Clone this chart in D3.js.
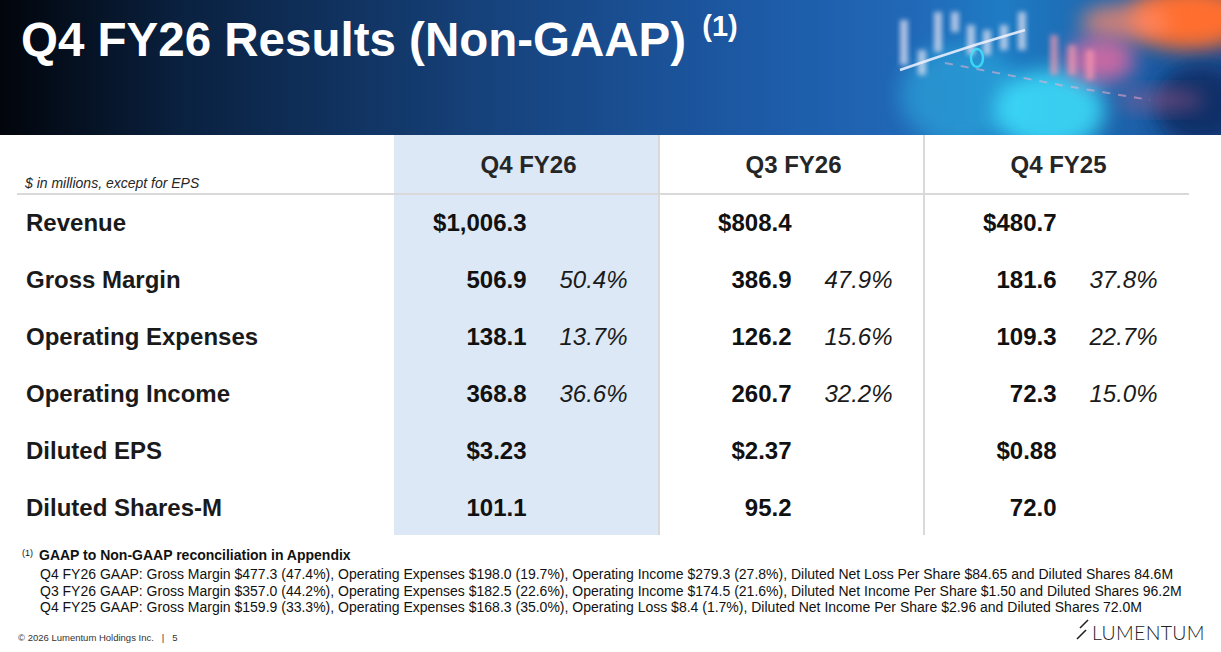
<!doctype html>
<html lang="en">
<head>
<meta charset="utf-8">
<title>Q4 FY26 Results (Non-GAAP)</title>
<script src="https://d3js.org/d3.v7.min.js"></script>
<style>
  html, body { margin: 0; padding: 0; background: #fff; }
  svg { display: block; font-family: "Liberation Sans", Arial, sans-serif; }
</style>
</head>
<body>
<svg id="slide" width="1221" height="652"></svg>
<script>
const columns = ["Q4 FY26", "Q3 FY26", "Q4 FY25"];
const rowLabels = ["Revenue", "Gross Margin", "Operating Expenses", "Operating Income", "Diluted EPS", "Diluted Shares-M"];
const q4fy26 = ["$1,006.3", "506.9", "138.1", "368.8", "$3.23", "101.1"];
const q3fy26 = ["$808.4", "386.9", "126.2", "260.7", "$2.37", "95.2"];
const q4fy25 = ["$480.7", "181.6", "109.3", "72.3", "$0.88", "72.0"];
const q4fy26Pct = ["", "50.4%", "13.7%", "36.6%", "", ""];
const q3fy26Pct = ["", "47.9%", "15.6%", "32.2%", "", ""];
const q4fy25Pct = ["", "37.8%", "22.7%", "15.0%", "", ""];
const footnotes = [
  "Q4 FY26 GAAP: Gross Margin $477.3 (47.4%), Operating Expenses $198.0 (19.7%), Operating Income $279.3 (27.8%), Diluted Net Loss Per Share $84.65 and Diluted Shares 84.6M",
  "Q3 FY26 GAAP: Gross Margin $357.0 (44.2%), Operating Expenses $182.5 (22.6%), Operating Income $174.5 (21.6%), Diluted Net Income Per Share $1.50 and Diluted Shares 96.2M",
  "Q4 FY25 GAAP: Gross Margin $159.9 (33.3%), Operating Expenses $168.3 (35.0%), Operating Loss $8.4 (1.7%), Diluted Net Income Per Share $2.96 and Diluted Shares 72.0M"
];

const values = [q4fy26, q3fy26, q4fy25];
const pcts = [q4fy26Pct, q3fy26Pct, q4fy25Pct];

const svg = d3.select("#slide");
const defs = svg.append("defs");

// banner background
const grad = defs.append("linearGradient").attr("id", "banner").attr("x1", 0).attr("x2", 1).attr("y1", 0).attr("y2", 0);
[["0%", "#02050b"], ["15%", "#0a2140"], ["40%", "#16427c"], ["62%", "#1d5aa6"], ["75%", "#2169b8"], ["82%", "#1f7cc4"], ["100%", "#1a4e96"]]
  .forEach(s => grad.append("stop").attr("offset", s[0]).attr("stop-color", s[1]));
const blur = defs.append("filter").attr("id", "blur").attr("x", "-50%").attr("y", "-50%").attr("width", "200%").attr("height", "200%");
blur.append("feGaussianBlur").attr("stdDeviation", 10);
const soft = defs.append("filter").attr("id", "soft").attr("x", "-50%").attr("y", "-50%").attr("width", "200%").attr("height", "200%");
soft.append("feGaussianBlur").attr("stdDeviation", 2.5);
const clip = defs.append("clipPath").attr("id", "bannerClip");
clip.append("rect").attr("width", 1221).attr("height", 135);

svg.append("rect").attr("width", 1221).attr("height", 135).attr("fill", "url(#banner)");

// background imagery (decorative)
const deco = svg.append("g").attr("clip-path", "url(#bannerClip)");
const glows = [
  {cx: 960, cy: 95, rx: 60, ry: 50, c: "#2fb0e0", o: 0.55},
  {cx: 1050, cy: 110, rx: 55, ry: 40, c: "#3fe6ff", o: 0.8},
  {cx: 1190, cy: 18, rx: 60, ry: 32, c: "#ff6e2e", o: 1},
  {cx: 1125, cy: 22, rx: 45, ry: 18, c: "#ff8a6a", o: 0.75},
  {cx: 1100, cy: 60, rx: 35, ry: 22, c: "#ff6aa0", o: 0.75},
  {cx: 1200, cy: 105, rx: 45, ry: 40, c: "#0d2a60", o: 0.85},
  {cx: 1160, cy: 100, rx: 45, ry: 10, c: "#d0608a", o: 0.45}
];
deco.selectAll("ellipse.glow").data(glows).join("ellipse").attr("class", "glow")
  .attr("cx", d => d.cx).attr("cy", d => d.cy).attr("rx", d => d.rx).attr("ry", d => d.ry)
  .attr("fill", d => d.c).attr("opacity", d => d.o).attr("filter", "url(#blur)");
const sticks = [
  {x: 900, y: 20, h: 45}, {x: 918, y: 50, h: 25}, {x: 934, y: 12, h: 40},
  {x: 951, y: 12, h: 20}, {x: 967, y: 25, h: 30}, {x: 983, y: 30, h: 25},
  {x: 1000, y: 25, h: 25}, {x: 1018, y: 12, h: 38}, {x: 1050, y: 35, h: 40},
  {x: 1068, y: 45, h: 30}, {x: 1086, y: 50, h: 30}
];
deco.selectAll("rect.stick").data(sticks).join("rect").attr("class", "stick")
  .attr("x", d => d.x).attr("y", d => d.y).attr("width", 8).attr("height", d => d.h)
  .attr("fill", (d, i) => i < 8 ? "#e8e6f5" : "#ff9ab0")
  .attr("opacity", (d, i) => i < 8 ? 0.7 : 0.65).attr("filter", "url(#soft)");
deco.append("path").attr("d", "M900,70 L935,58 L975,45 L1005,36 L1025,30")
  .attr("stroke", "#f4f4ff").attr("stroke-width", 2.5).attr("fill", "none").attr("opacity", 0.85);
deco.append("path").attr("d", "M945,63 L1060,85 L1150,100")
  .attr("stroke", "#ffb0d0").attr("stroke-width", 2).attr("stroke-dasharray", "8 8").attr("fill", "none").attr("opacity", 0.5);
deco.append("ellipse").attr("cx", 977).attr("cy", 58).attr("rx", 6).attr("ry", 9)
  .attr("fill", "none").attr("stroke", "#40e6ff").attr("stroke-width", 2.5).attr("opacity", 0.8);

// title
const title = svg.append("text").attr("x", 21).attr("y", 56).attr("fill", "#fff")
  .attr("font-weight", "bold").attr("font-size", 47.5);
title.append("tspan").text("Q4 FY26 Results (Non-GAAP) ");
title.append("tspan").text("(1)").attr("font-size", 29).attr("dy", -20).attr("dx", 3);

// table scales
const x = d3.scaleBand().domain(columns).range([394, 1189]);
const y = d3.scalePoint().domain(rowLabels).range([222, 507]);

// highlighted column
svg.append("rect").attr("x", x(columns[0])).attr("y", 135)
  .attr("width", x.bandwidth()).attr("height", 400).attr("fill", "#dce8f5");

// separators
svg.selectAll("line.vsep").data(columns.slice(1)).join("line").attr("class", "vsep")
  .attr("x1", d => x(d)).attr("x2", d => x(d)).attr("y1", 135).attr("y2", 535)
  .attr("stroke", "#d9d9d9").attr("stroke-width", 2);
svg.append("line").attr("x1", 17).attr("x2", 1189).attr("y1", 194).attr("y2", 194)
  .attr("stroke", "#d9d9d9").attr("stroke-width", 2);

// column headers
svg.selectAll("text.colhead").data(columns).join("text").attr("class", "colhead")
  .attr("x", d => x(d) + x.bandwidth() / 2 + 2).attr("y", 173)
  .attr("text-anchor", "middle").attr("font-weight", "bold").attr("font-size", 24)
  .attr("fill", "#262626").text(d => d);

svg.append("text").attr("x", 25).attr("y", 188).attr("font-style", "italic")
  .attr("font-size", 14).attr("fill", "#262626").text("$ in millions, except for EPS");

// row labels
svg.selectAll("text.rowlab").data(rowLabels).join("text").attr("class", "rowlab")
  .attr("x", 26).attr("y", d => y(d) + 8.5)
  .attr("font-weight", "bold").attr("font-size", 24).attr("fill", "#1a1a1a").text(d => d);

// values
columns.forEach((c, ci) => {
  const g = svg.append("g");
  g.selectAll("text.val").data(values[ci]).join("text").attr("class", "val")
    .attr("x", x(c) + x.bandwidth() / 2).attr("y", (d, i) => y(rowLabels[i]) + 8.5)
    .attr("text-anchor", "end").attr("font-weight", "bold").attr("font-size", 24)
    .attr("fill", "#111").text(d => d);
  g.selectAll("text.pct").data(pcts[ci]).join("text").attr("class", "pct")
    .attr("x", x(c) + x.bandwidth() / 2 + 101).attr("y", (d, i) => y(rowLabels[i]) + 8.5)
    .attr("text-anchor", "end").attr("font-style", "italic").attr("font-size", 24)
    .attr("fill", "#1a1a1a").text(d => d);
});

// footnotes
const fn = svg.append("g");
fn.append("text").attr("x", 22).attr("y", 556).attr("font-size", 9).attr("fill", "#111").text("(1)");
fn.append("text").attr("x", 39).attr("y", 560).attr("font-weight", "bold").attr("font-size", 14)
  .attr("fill", "#111").text("GAAP to Non-GAAP reconciliation in Appendix");
fn.selectAll("text.fnline").data(footnotes).join("text").attr("class", "fnline")
  .attr("x", 40).attr("y", (d, i) => 579 + i * 16.5).attr("font-size", 14).attr("fill", "#111").text(d => d);

svg.append("text").attr("x", 18).attr("y", 641).attr("font-size", 9.5).attr("fill", "#333")
  .attr("xml:space", "preserve").text("\u00a9 2026 Lumentum Holdings Inc.   |   5");

// logo
const logo = svg.append("g");
logo.append("line").attr("x1", 1077).attr("y1", 639).attr("x2", 1086).attr("y2", 630)
  .attr("stroke", "#222").attr("stroke-width", 1.6);
logo.append("line").attr("x1", 1080).attr("y1", 628).attr("x2", 1088).attr("y2", 620)
  .attr("stroke", "#222").attr("stroke-width", 1.6);
logo.append("text").attr("x", 1092).attr("y", 640).attr("font-family", "Lato, 'DejaVu Sans', sans-serif")
  .attr("font-weight", 300).attr("font-size", 19.5).attr("letter-spacing", 0.3).attr("fill", "#222").text("LUMENTUM");
</script>
</body>
</html>
